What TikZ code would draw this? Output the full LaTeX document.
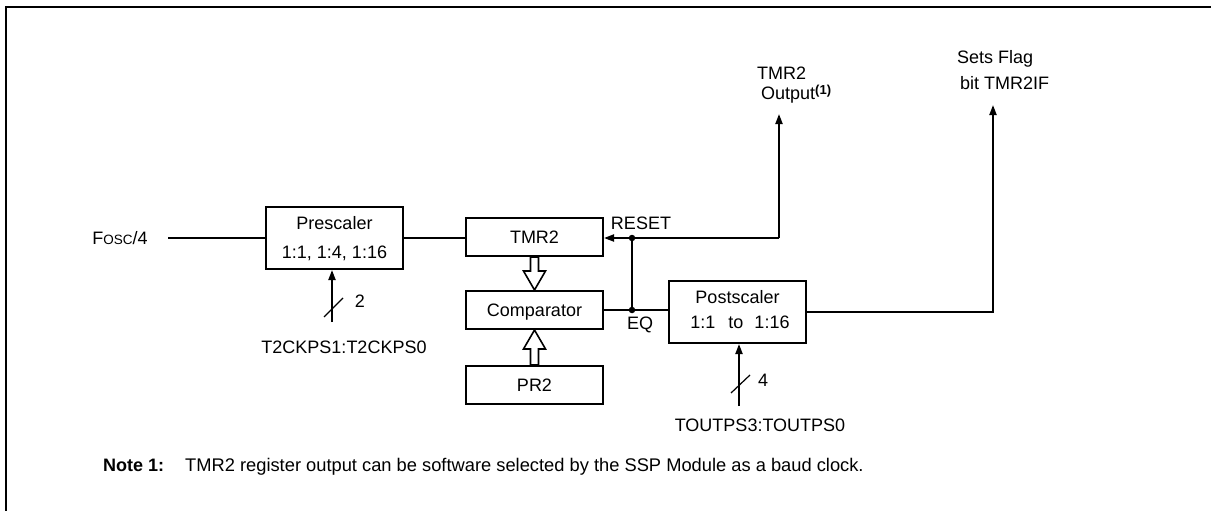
\documentclass[tikz,border=0pt]{standalone}
\usepackage{fontspec}
\setmainfont{Liberation Sans}
\usetikzlibrary{arrows.meta,calc}
\begin{document}
\begin{tikzpicture}[x=1pt,y=-1pt,
  every node/.style={font=\fontsize{18}{21}\selectfont},
  blk/.style={draw, line width=2pt, minimum width=137pt, inner sep=0pt, text height=12.9pt, text depth=0pt},
  lbl/.style={inner sep=0pt, text height=12.9pt, text depth=0pt},
  wire/.style={line width=2pt},
  arr/.style={wire, -{Triangle[length=10pt,width=7pt]}},
  hol/.style={line width=1.6pt, fill=white},
  slash/.style={line width=1.2pt},
  dot/.style={circle, fill, inner sep=0pt, minimum size=6.5pt}
]
\useasboundingbox (0,0) rectangle (1211,511);
\draw[line width=2pt] (6,511) -- (6,7) -- (1211,7);

% blocks
\node[blk, minimum height=62pt] (pre) at (334.5,238) {};
\node[lbl] (pret) at (334.5,223) {Prescaler};
\node[lbl] (prer) at (334.5,252) {1:1, 1:4, 1:16};
\node[blk, minimum height=38pt] (tmr) at (534.5,237) {TMR2};
\node[blk, minimum height=38pt] (cmp) at (534.5,310) {Comparator};
\node[blk, minimum height=38pt] (pr2) at (534.5,385) {PR2};
\node[blk, minimum height=62pt] (post) at (737.5,312) {};
\node[lbl] (postt) at (737.5,297) {Postscaler};
\node[lbl] (postr) at (740,322) {1:1\hspace{13pt}to\hspace{11pt}1:16};

% input
\node[lbl] (fosc) at (120,238) {F{\fontsize{13.5}{14}\selectfont OSC}/4};
\coordinate (fin) at (168,238);
\draw[wire] (fin) -- (pre.west);
\draw[wire] (pre.east) -- (pre.east -| tmr.west);

% reset / output
\coordinate (j1) at (632,238);
\coordinate (j2) at (632,310);
\coordinate (r) at (779,238);
\coordinate (out1) at (779,114);
\coordinate (sf) at (993,105);
\draw[arr] (r) -- (r -| tmr.east);
\draw[arr] (r) -- (out1);
\draw[wire] (j1) -- (j2);
\draw[wire] (cmp.east) -- (post.west |- cmp.east);
\draw[arr] (post.east) -| (sf);
\node[dot] (d1) at (j1) {};
\node[dot] (d2) at (j2) {};
\node[lbl] (reset) at (641,223) {RESET};
\node[lbl] (eq) at (640,323) {EQ};

% hollow bus arrows
\draw[hol] ($(tmr.south)+(-4,0)$) -- ($(tmr.south)+(4,0)$) -- ($(cmp.north)+(4,-19)$) -- ($(cmp.north)+(11,-19)$) -- (cmp.north) -- ($(cmp.north)+(-11,-19)$) -- ($(cmp.north)+(-4,-19)$) -- cycle;
\draw[hol] ($(pr2.north)+(-4,0)$) -- ($(pr2.north)+(4,0)$) -- ($(cmp.south)+(4,19)$) -- ($(cmp.south)+(11,19)$) -- (cmp.south) -- ($(cmp.south)+(-11,19)$) -- ($(cmp.south)+(-4,19)$) -- cycle;

% prescaler select
\coordinate (pb) at (332,322);
\draw[arr] (pb) -- (pb |- pre.south);
\draw[slash] (324,317) -- (343,298);
\node[lbl] (n2) at (360,301) {2};
\node[lbl] (t2) at (344,347) {T2CKPS1:T2CKPS0};

% postscaler select
\coordinate (qb) at (739,406);
\draw[arr] (qb) -- (qb |- post.south);
\draw[slash] (731,393) -- (750,375);
\node[lbl] (n4) at (763,380) {4};
\node[lbl] (tout) at (760,425) {TOUTPS3:TOUTPS0};

% top labels
\node[lbl, anchor=west] (o1) at (757,73) {TMR2};
\node[lbl, anchor=west] (o2) at (761,93) {Output\raisebox{5pt}{\fontsize{13}{14}\selectfont\bfseries(1)}};
\node[lbl, anchor=west] (s1) at (957,57) {Sets Flag};
\node[lbl, anchor=west] (s2) at (960,83) {bit TMR2IF};

% note
\node[lbl, anchor=west] (nt) at (103,465) {\textbf{Note 1:}};
\node[lbl, anchor=west] (ntx) at (185,465) {\fontsize{18.3}{21}\selectfont TMR2 register output can be software selected by the SSP Module as a baud clock.};
\end{tikzpicture}
\end{document}
